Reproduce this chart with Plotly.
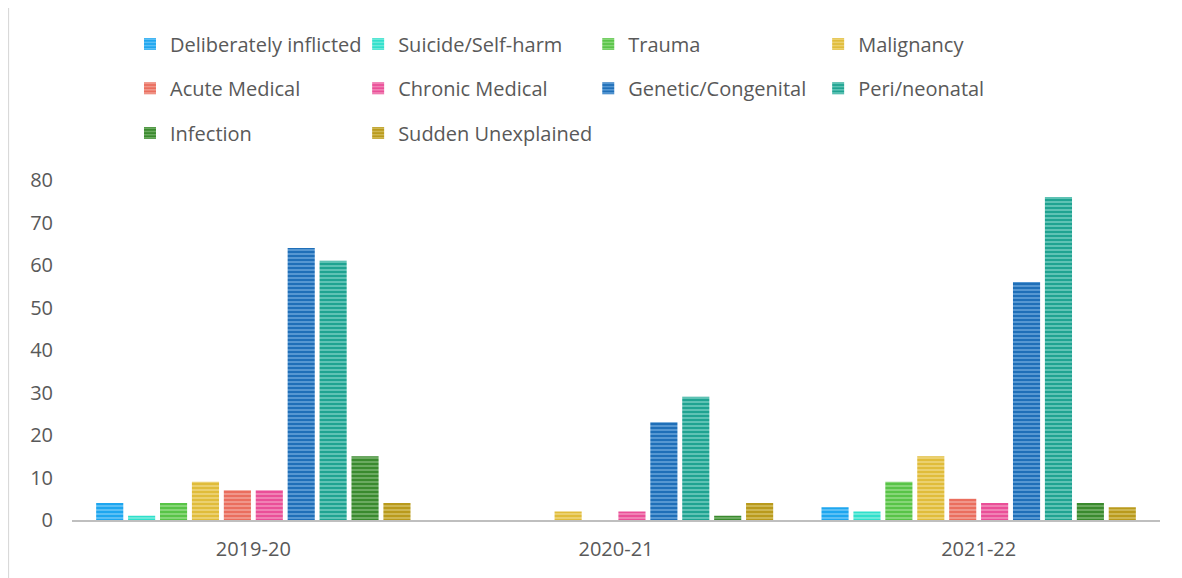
import plotly.graph_objects as go

years = ["2019-20", "2020-21", "2021-22"]
categories = ["Deliberately inflicted", "Suicide/Self-harm", "Trauma", "Malignancy",
              "Acute Medical", "Chronic Medical", "Genetic/Congenital", "Peri/neonatal",
              "Infection", "Sudden Unexplained"]
deliberately = [4, 0, 3]
suicide = [1, 0, 2]
trauma = [4, 0, 9]
malignancy = [9, 2, 15]
acute = [7, 0, 5]
chronic = [7, 2, 4]
genetic = [64, 23, 56]
peri = [61, 29, 76]
infection = [15, 1, 4]
sudden = [4, 4, 3]
series = [deliberately, suicide, trauma, malignancy, acute, chronic, genetic, peri, infection, sudden]
y_ticks = [0, 10, 20, 30, 40, 50, 60, 70, 80]

colors = ["#1ea6ef", "#2fe0cb", "#58c447", "#e0bc3a", "#ea6e5e", "#ea4f98",
          "#1f6fb8", "#1fa391", "#3a8a2e", "#b99a1c"]
lights = ["#9ad8fb", "#a9f4ea", "#b5e9a9", "#f7e6a4", "#f8c0b8", "#f8b4d3",
          "#8ec0ec", "#9fe3d8", "#9ccc93", "#e6d48a"]

font = dict(family="'Open Sans', sans-serif", size=20, color="#595959")

col_x = [0.0533, 0.2630, 0.4745, 0.6858]
row_y = [1.40, 1.27, 1.138]

fig = go.Figure()
legends = {}
for i, (name, vals, c, lc) in enumerate(zip(categories, series, colors, lights)):
    lid = "legend" if i == 0 else f"legend{i + 1}"
    legends[lid] = dict(orientation="h", x=col_x[i % 4], xanchor="left",
                        y=row_y[i // 4], yanchor="middle", font=font,
                        bgcolor="rgba(0,0,0,0)", visible=True)
    fig.add_trace(go.Bar(
        x=years, y=vals, name=name, legend=lid, showlegend=True,
        marker=dict(color=c, line=dict(width=0),
                    pattern=dict(shape="-", fgcolor=lc, fgopacity=0.7,
                                 size=4, solidity=0.35, fillmode="overlay")),
    ))

fig.update_layout(
    width=1182, height=578,
    margin=dict(l=64, r=30, t=172, b=66),
    paper_bgcolor="white", plot_bgcolor="white",
    showlegend=True,
    barmode="group", bargap=0.12, bargroupgap=0.15,
    font=font,
    xaxis=dict(showline=True, linecolor="#bfbfbf", linewidth=2, ticks="",
               showgrid=False, tickfont=font, ticklabelstandoff=10),
    yaxis=dict(range=[0, 80], tickvals=y_ticks, showgrid=False, zeroline=False,
               showline=False, ticks="", tickfont=font, ticklabelstandoff=18),
    shapes=[dict(type="line", xref="paper", yref="paper", x0=-0.0585, x1=-0.0585,
                 y0=-0.3, y1=1.6, line=dict(color="#d9d9d9", width=1.5))],
    **legends,
)

fig.write_html("out.html")
